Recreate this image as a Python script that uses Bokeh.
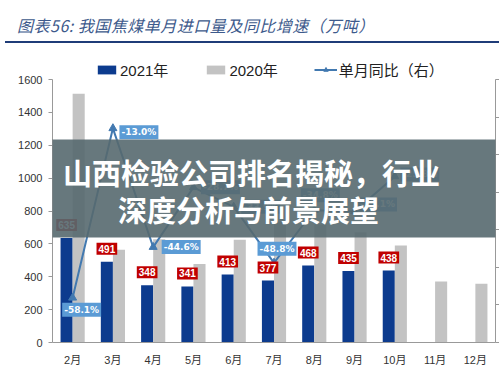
from bokeh.plotting import figure
from bokeh.layouts import column
from bokeh.models import (ColumnDataSource, FactorRange, Range1d, LinearAxis, FixedTicker,
                          Label, BoxAnnotation, Legend, LegendItem, Div)
from bokeh.transform import dodge
from bokeh.core.properties import value
from bokeh.embed import file_html
from bokeh.resources import INLINE

# ---------------- data ----------------
months = ["2月", "3月", "4月", "5月", "6月", "7月", "8月", "9月", "10月", "11月", "12月"]
imports_2021 = [635, 491, 348, 341, 413, 377, 468, 435, 438]          # Feb-Oct 2021
imports_2020 = [1513, 564, 628, 478, 625, 736, 718, 670, 590, 371, 357]
yoy_2021 = [-58.1, -13.0, -44.6, -28.7, -33.9, -48.8, -34.8, -35.1, -25.8]
left_ticks = [0, 200, 400, 600, 800, 1000, 1200, 1400, 1600]
right_ticks = [-70, -60, -50, -40, -30, -20, -10, 0]

title_text = "图表56: 我国焦煤单月进口量及同比增速（万吨）"
legend_labels = ["2021年", "2020年", "单月同比（右）"]
banner_lines = ["山西检验公司排名揭秘，行业", "深度分析与前景展望"]

# ---------------- styling ----------------
BLUE = "#0c3b8e"
GRAY = "#c3c3c3"
RED = "#c00000"
LINE = "#4279b0"
LBLUE = "#5b9bd5"
AXIS = "#999999"
CJK = "Noto Sans CJK SC"
LAT = "Liberation Sans, Noto Sans CJK SC"

# label placement (pixels) for the YoY call-outs
yoy_dx = [9, 26, 28, 27, 27, 3, 6, 23, 25]
yoy_dy = [12, 4, 0, 0, 0, -14, -15, -7, -2]

# ---------------- title block (HTML) ----------------
HEAD_H = 43
head = Div(text=title_text, width=494, height=HEAD_H, margin=(0, 0, 0, 5),
           styles={"font-family": "'Noto Sans CJK SC'", "font-size": "16px",
                   "font-style": "italic", "color": "#3d5a8c",
                   "letter-spacing": "0.5px",
                   "border-bottom": "2.5px solid #1f3c78", "box-sizing": "border-box",
                   "padding-left": "12px", "padding-top": "14px", "line-height": "22px",
                   "white-space": "nowrap"})

# ---------------- chart ----------------
FIG_H = 376 - HEAD_H
BOTTOM = 34
FRAME_H = FIG_H - BOTTOM          # frame spans from the top of the chart canvas
AXIS_H = 263                      # pixel height of the 0-1600 scale
left_top = left_ticks[-1] * FRAME_H / AXIS_H
right_top = right_ticks[0] + (right_ticks[-1] - right_ticks[0]) * FRAME_H / AXIS_H

p = figure(width=499, height=FIG_H,
           x_range=FactorRange(*months, range_padding=0),
           y_range=Range1d(0, left_top),
           output_backend="svg", toolbar_location=None,
           min_border_left=52, min_border_right=4,
           min_border_top=0, min_border_bottom=BOTTOM)
p.title.visible = False
p.extra_y_ranges = {"yoy": Range1d(right_ticks[0], right_top)}
p.xgrid.visible = False
p.ygrid.visible = False
p.outline_line_color = None
p.background_fill_color = "white"
p.border_fill_color = "white"

src21 = ColumnDataSource(dict(month=months[:len(imports_2021)], v=imports_2021,
                              lbl=[str(v) for v in imports_2021]))
src20 = ColumnDataSource(dict(month=months, v=imports_2020))
srcy = ColumnDataSource(dict(month=months[:len(yoy_2021)], v=yoy_2021,
                             lbl=[f"{v:.1f}%" for v in yoy_2021],
                             dx=yoy_dx, dy=yoy_dy))

r21 = p.vbar(x=dodge("month", -0.15, range=p.x_range), top="v", width=0.3,
             source=src21, fill_color=BLUE, line_color=None)
r20 = p.vbar(x=dodge("month", 0.15, range=p.x_range), top="v", width=0.3,
             source=src20, fill_color=GRAY, line_color=None)
rl = p.line(x="month", y="v", source=srcy, y_range_name="yoy",
            line_color=LINE, line_width=2)
rm = p.scatter(x="month", y="v", source=srcy, y_range_name="yoy",
               marker="triangle", size=8, fill_color=LINE, line_color=LINE)

# red value labels above 2021 bars
p.text(x=dodge("month", -0.15, range=p.x_range), y="v", text="lbl", source=src21,
       text_align="center", text_baseline="bottom", y_offset=-7,
       text_color="white", text_font=value("Liberation Sans"), text_font_style="bold",
       text_font_size="10px", background_fill_color=RED, padding=2)

# blue YoY call-outs
p.text(x="month", y="v", text="lbl", source=srcy, y_range_name="yoy",
       x_offset="dx", y_offset="dy",
       text_align="center", text_baseline="middle",
       text_color="white", text_font=value("DejaVu Sans"), text_font_style="bold",
       text_font_size="9px", background_fill_color=LBLUE, padding=2)

# axes
xa = p.xaxis[0]
xa.major_label_text_font = LAT
xa.major_label_text_font_size = "11px"
xa.major_label_text_color = "#333333"
xa.axis_line_color = AXIS
xa.major_tick_line_color = None
xa.minor_tick_line_color = None
xa.major_label_standoff = 5

ya = p.yaxis[0]
ya.ticker = FixedTicker(ticks=left_ticks)
ya.bounds = (left_ticks[0], left_ticks[-1])
ya.major_label_text_font = "Liberation Sans"
ya.major_label_text_font_size = "11px"
ya.major_label_text_color = "#333333"
ya.axis_line_color = AXIS
ya.major_tick_line_color = AXIS
ya.major_tick_out = 4
ya.major_tick_in = 0
ya.minor_tick_line_color = None
ya.major_label_standoff = 6

# right (YoY) axis: its tick labels lie beyond the picture's right edge in the
# original, so only the line and ticks are shown
ra = LinearAxis(y_range_name="yoy", ticker=FixedTicker(ticks=right_ticks),
                bounds=(right_ticks[0], right_ticks[-1]),
                major_label_overrides={t: "" for t in right_ticks},
                major_label_standoff=0,
                major_tick_out=4, major_tick_in=0,
                axis_line_color=AXIS, major_tick_line_color=AXIS,
                minor_tick_line_color=None)
p.add_layout(ra, "right")

# legend
legend = Legend(items=[LegendItem(label=legend_labels[0], renderers=[r21]),
                       LegendItem(label=legend_labels[1], renderers=[r20]),
                       LegendItem(label=legend_labels[2], renderers=[rl, rm])],
                orientation="horizontal", location=(43, 262),
                glyph_width=23, glyph_height=11, label_standoff=2, spacing=36,
                label_text_font=LAT, label_text_font_size="15px",
                label_text_color="#222222",
                padding=0, margin=0, border_line_color=None,
                background_fill_alpha=0)
p.add_layout(legend, "center")

# banner overlay (canvas pixels of the chart canvas)
p.add_layout(BoxAnnotation(left=0, right=499, top=139 - HEAD_H, bottom=237 - HEAD_H,
                           left_units="canvas", right_units="canvas",
                           top_units="canvas", bottom_units="canvas",
                           fill_color="#56696f", fill_alpha=0.9, line_color=None,
                           level="overlay"))
p.add_layout(Label(x=251, y=171 - HEAD_H, x_units="canvas", y_units="canvas",
                   text=banner_lines[0],
                   text_font=CJK, text_font_size="29px", text_font_style="bold",
                   text_color="white", text_align="center", text_baseline="middle",
                   level="overlay"))
p.add_layout(Label(x=248, y=208 - HEAD_H, x_units="canvas", y_units="canvas",
                   text=banner_lines[1],
                   text_font=CJK, text_font_size="29px", text_font_style="bold",
                   text_color="white", text_align="center", text_baseline="middle",
                   level="overlay"))

layout = column(head, p, spacing=0)
open("out.html", "w").write(file_html(layout, INLINE))
